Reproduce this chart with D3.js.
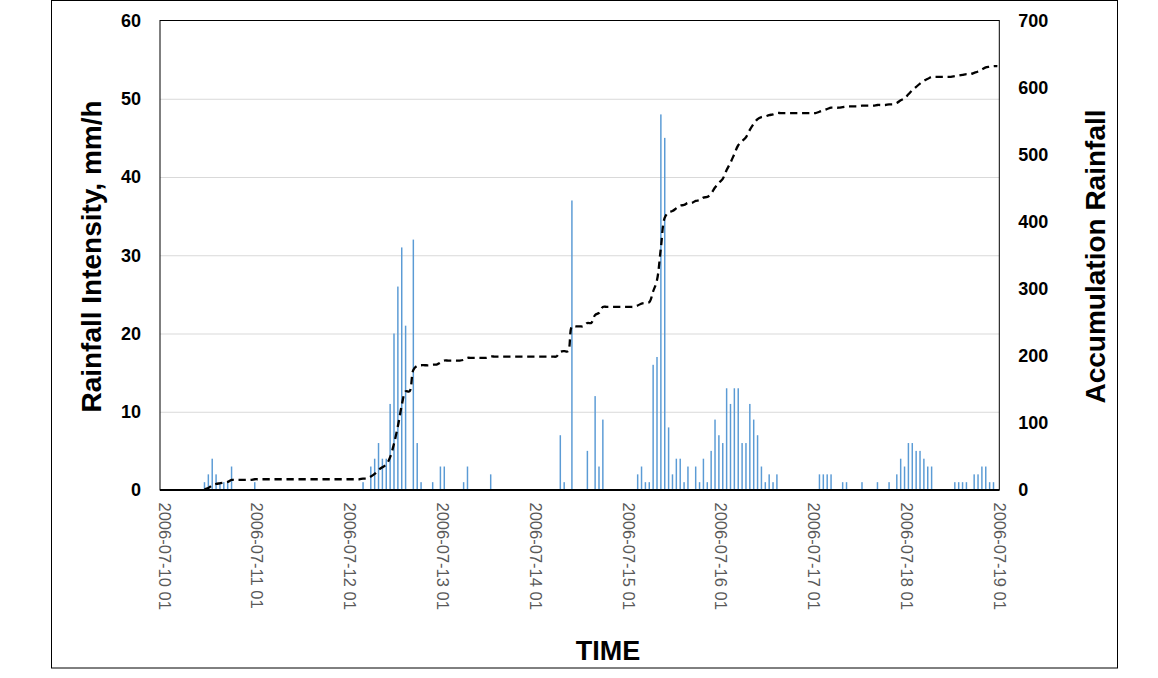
<!DOCTYPE html>
<html><head><meta charset="utf-8">
<script src="https://cdn.jsdelivr.net/npm/d3@7"></script>
<style>body{margin:0;background:#fff}svg{display:block}</style>
</head><body>
<svg id="c" width="1158" height="678"></svg>
<script>
// Hourly rainfall intensity (mm/h), 2006-07-10 01 .. 2006-07-19 01 (217 hours)
const intensity = [
  0,0,0,0,0,0,0,0,0,0,0,1,2,4,2,1,1,1,3,0,0,0,0,0,
  1,0,0,0,0,0,0,0,0,0,0,0,0,0,0,0,0,0,0,0,0,0,0,0,
  0,0,0,0,1,0,3,4,6,4,4,11,20,26,31,21,0,32,6,1,0,0,1,0,
  3,3,0,0,0,0,1,3,0,0,0,0,0,2,0,0,0,0,0,0,0,0,0,0,
  0,0,0,0,0,0,0,7,1,0,37,0,0,0,5,0,12,3,9,0,0,0,0,0,
  0,0,0,2,3,1,1,16,17,48,45,8,2,4,4,1,3,0,3,1,4,1,5,9,
  7,6,13,11,13,13,6,6,11,9,7,3,1,2,1,2,0,0,0,0,0,0,0,0,
  0,0,2,2,2,2,0,0,1,1,0,0,0,1,0,0,0,1,0,0,1,0,2,4,
  3,6,6,5,5,4,3,3,0,0,0,0,0,1,1,1,1,0,2,2,3,3,1,1,
  0
];
// Accumulated rainfall (mm), same hours
const accumulation = [
  null,null,null,null,null,null,null,null,null,null,null,1,3,7,9,10,11,12,15,15,15,15,15,15,
  16,16,16,16,16,16,16,16,16,16,16,16,16,16,16,16,16,16,16,16,16,16,16,16,
  16,16,16,16,17,17,20,24,30,34,38,49,69,95,126,147,147,179,185,186,186,186,187,187,
  190,193,193,193,193,193,194,197,197,197,197,197,197,199,199,199,199,199,199,199,199,199,199,199,
  199,199,199,199,199,199,199,206,207,207,244,244,244,244,249,249,261,264,273,273,273,273,273,273,
  273,273,273,275,278,279,280,296,313,361,406,414,416,420,424,425,428,428,431,432,436,437,442,451,
  458,464,477,488,501,514,520,526,537,546,553,556,557,559,560,562,562,562,562,562,562,562,562,562,
  562,562,564,566,568,570,570,570,571,572,572,572,572,573,573,573,573,574,574,574,575,575,577,581,
  584,590,596,601,606,610,613,616,616,616,616,616,616,617,618,619,620,620,622,624,627,630,631,632,
  632
];
const leftTicks = [0,10,20,30,40,50,60];
const rightTicks = [0,100,200,300,400,500,600,700];
const xTickLabels = ["2006-07-10 01","2006-07-11 01","2006-07-12 01","2006-07-13 01","2006-07-14 01",
  "2006-07-15 01","2006-07-16 01","2006-07-17 01","2006-07-18 01","2006-07-19 01"];
const xTickHours = [0,24,48,72,96,120,144,168,192,216];

const M = {left:160, right:999.3, top:20.5, bottom:490};
const svg = d3.select('#c');
const FONT = "'Liberation Sans', Arial, sans-serif";

svg.append('rect').attr('x',51.5).attr('y',0.5).attr('width',1066).attr('height',667.5)
  .attr('fill','#fff').attr('stroke','#000').attr('stroke-width',1);

const hours = d3.range(intensity.length);
const x = d3.scaleBand().domain(hours).range([M.left, M.right]).paddingInner(0.62).paddingOuter(0.31);
const cx = i => x(i) + x.bandwidth()/2;
const yL = d3.scaleLinear().domain([0,60]).range([M.bottom, M.top]);
const yR = d3.scaleLinear().domain([0,700]).range([M.bottom, M.top]);

// gridlines
const grid = svg.append('g').attr('transform',`translate(${M.left},0)`)
  .call(d3.axisLeft(yL).tickValues(leftTicks.slice(1,-1)).tickSize(-(M.right-M.left)).tickFormat(''));
grid.select('.domain').remove();
grid.selectAll('line').attr('stroke','#d9d9d9').attr('stroke-width',1);

// bars
svg.append('g').selectAll('rect').data(intensity).join('rect')
  .attr('x',(d,i)=>x(i)).attr('width',x.bandwidth())
  .attr('y',d=>yL(d)).attr('height',d=>M.bottom-yL(d))
  .attr('fill','#5b9bd5');

// plot border
svg.append('rect').attr('x',M.left).attr('y',M.top).attr('width',M.right-M.left).attr('height',M.bottom-M.top)
  .attr('fill','none').attr('stroke','#000').attr('stroke-width',1);

// accumulation line
const line = d3.line().defined(d=>d!=null).x((d,i)=>cx(i)).y(d=>yR(d)).curve(d3.curveCatmullRom);
svg.append('path').datum(accumulation).attr('d',line)
  .attr('fill','none').attr('stroke','#000').attr('stroke-width',2.3)
  .attr('stroke-dasharray','7.3,4.7');

// bottom axis line
svg.append('line').attr('x1',M.left).attr('x2',M.right).attr('y1',M.bottom).attr('y2',M.bottom)
  .attr('stroke','#000').attr('stroke-width',2);

// left axis labels
const axL = svg.append('g').attr('transform',`translate(${M.left},0)`)
  .call(d3.axisLeft(yL).tickValues(leftTicks).tickSize(0).tickPadding(19));
axL.select('.domain').remove();
axL.selectAll('text').attr('font-family',FONT).attr('font-weight','bold').attr('font-size',18).attr('fill','#000');

// right axis labels
const axR = svg.append('g').attr('transform',`translate(${M.right},0)`)
  .call(d3.axisRight(yR).tickValues(rightTicks).tickSize(0).tickPadding(19));
axR.select('.domain').remove();
axR.selectAll('text').attr('font-family',FONT).attr('font-weight','bold').attr('font-size',18).attr('fill','#000');

// x tick labels (rotated)
svg.append('g').selectAll('text').data(xTickHours).join('text')
  .attr('transform',h=>`translate(${cx(h)},502.5) rotate(90)`)
  .attr('dy',3.4)
  .attr('text-anchor','start')
  .attr('font-family',FONT).attr('font-size',16.5).attr('fill','#595959')
  .text((h,k)=>xTickLabels[k]);

// titles
svg.append('text').attr('transform','translate(101,256.5) rotate(-90)')
  .attr('text-anchor','middle').attr('font-family',FONT).attr('font-weight','bold').attr('font-size',28)
  .text('Rainfall Intensity, mm/h');
svg.append('text').attr('transform','translate(1105,256.5) rotate(-90)')
  .attr('text-anchor','middle').attr('font-family',FONT).attr('font-weight','bold').attr('font-size',28)
  .text('Accumulation Rainfall');
svg.append('text').attr('x',608).attr('y',660)
  .attr('text-anchor','middle').attr('font-family',FONT).attr('font-weight','bold').attr('font-size',27)
  .text('TIME');
</script>
</body></html>
